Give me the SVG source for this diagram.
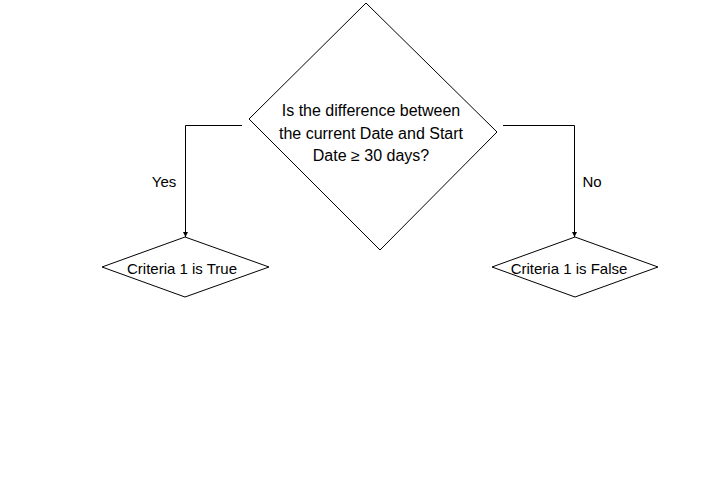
<svg xmlns="http://www.w3.org/2000/svg" width="720" height="480" viewBox="0 0 720 480">
<style>
.shape{fill:#fff;stroke:#000;stroke-width:1}
.conn{fill:none;stroke:#000;stroke-width:1}
text{font-family:"Liberation Sans",Arial,sans-serif;fill:#000;text-anchor:middle}
.main{font-size:16px}
.small{font-size:15px}
</style>
<defs>
<marker id="arr" markerWidth="6" markerHeight="6" refX="5" refY="3" orient="auto" markerUnits="userSpaceOnUse">
<path d="M0,0.5 L5,3 L0,5.5 Z" fill="#000"/>
</marker>
</defs>
<rect width="720" height="480" fill="#fff"/>
<g id="decision">
<polygon class="shape" points="366,3 497,132 380,250 249,119"/>
<text class="main" x="371" y="116">Is the difference between</text>
<text class="main" x="371" y="139">the current Date and Start</text>
<text class="main" x="371" y="161">Date ≥ 30 days?</text>
</g>
<g id="true">
<polygon class="shape" points="185,237 269,267 185,297 102,267"/>
<text class="small" x="182" y="274">Criteria 1 is True</text>
</g>
<g id="false">
<polygon class="shape" points="575,237 658,267 575,297 492,267"/>
<text class="small" x="569" y="274">Criteria 1 is False</text>
</g>
<g id="connectors">
<path class="conn" d="M242,125.5 H185.5 V237" marker-end="url(#arr)"/>
<path class="conn" d="M503,125.5 H574.5 V237" marker-end="url(#arr)"/>
<text class="small" x="164" y="187">Yes</text>
<text class="small" x="592" y="187">No</text>
</g>
</svg>
